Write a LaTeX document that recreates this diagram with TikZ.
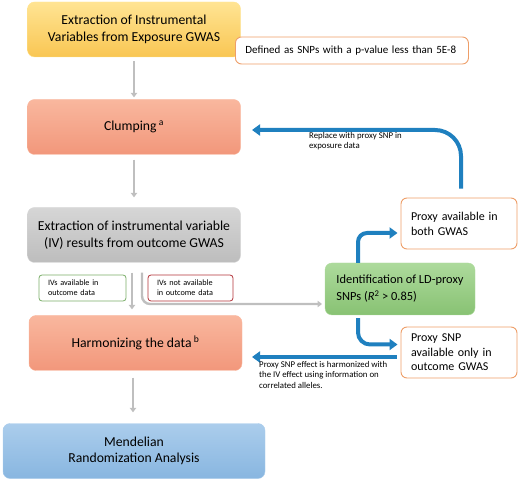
\documentclass[tikz,border=0pt]{standalone}
\usepackage{fontspec}
\setmainfont{Carlito}
\usetikzlibrary{positioning, arrows.meta}

\definecolor{yellowtop}{HTML}{FFE493}
\definecolor{yellowbot}{HTML}{F9C653}
\definecolor{salmontop}{HTML}{F9B79E}
\definecolor{salmonbot}{HTML}{F2977B}
\definecolor{greytop}{HTML}{D6D6D6}
\definecolor{greybot}{HTML}{BDBDBD}
\definecolor{greentop}{HTML}{ADDA9C}
\definecolor{greenbot}{HTML}{88C273}
\definecolor{bluetop}{HTML}{ABCDEC}
\definecolor{bluebot}{HTML}{88B6E0}
\definecolor{noteorange}{HTML}{EE9E68}
\definecolor{arrowgrey}{HTML}{BFBFBF}
\definecolor{arrowblue}{HTML}{1F80BF}
\definecolor{labelgreen}{HTML}{7AAE68}
\definecolor{labelred}{HTML}{B3333A}

\begin{document}
\begin{tikzpicture}[x=1pt, y=-1pt,
    stepbox/.style={draw, rounded corners=7pt, minimum width=213pt, minimum height=55pt,
        align=center, font=\fontsize{13.7}{16.5}\selectfont},
    notebox/.style={draw=noteorange, fill=white, rounded corners=6pt, line width=0.9pt,
        align=left, inner xsep=10pt},
    ivbox/.style={draw, fill=white, rounded corners=3pt, line width=0.8pt, align=left,
        minimum height=26pt, inner xsep=9pt, font=\fontsize{8.2}{10}\selectfont},
    greyarrow/.style={draw=arrowgrey, line width=2.4pt, -{Triangle[width=6.5pt,length=4.5pt]}},
    bluearrow/.style={draw=arrowblue, line width=4pt, -{Triangle[width=11pt,length=8pt]}},
    small/.style={font=\fontsize{8.8}{10.5}\selectfont, align=left, inner sep=0pt}]
    \useasboundingbox (0,0) rectangle (520,481);

    % main steps
    \node[stepbox, top color=yellowtop, bottom color=yellowbot, draw=yellowtop] (extract) at (134,29.5) {Extraction of Instrumental\\Variables from Exposure GWAS};
    \node[stepbox, top color=salmontop, bottom color=salmonbot, draw=salmontop] (clump) at (134,127) {Clumping\,\textsuperscript{a}};
    \node[stepbox, top color=greytop, bottom color=greybot, draw=greytop] (outcome) at (134,235) {Extraction of instrumental variable\\(IV) results from outcome GWAS};
    \node[stepbox, top color=salmontop, bottom color=salmonbot, draw=salmontop] (harm) at (135.5,343) {Harmonizing the data\,\textsuperscript{b}};
    \node[stepbox, top color=bluetop, bottom color=bluebot, draw=bluetop, minimum width=262pt] (mr) at (134,451) {Mendelian\\Randomization Analysis};

    % notes
    \node[notebox, anchor=west, text width=213pt, minimum height=27pt, font=\fontsize{11}{12}\selectfont] (pval) at (235,50.5) {Defined as SNPs with a p-value less than 5E-8};
    \node[notebox, text width=96pt, minimum height=51pt, font=\fontsize{12}{15}\selectfont] (both) at (459,223.5) {Proxy available in\\both GWAS};
    \node[notebox, text width=96pt, minimum height=51pt, font=\fontsize{12}{14.5}\selectfont] (only) at (459,352.5) {Proxy SNP\\available only in\\outcome GWAS};
    \node[draw=greentop, top color=greentop, bottom color=greenbot, rounded corners=7pt, minimum width=150pt,
        minimum height=52pt, align=left, font=\fontsize{12.4}{17}\selectfont] (ldproxy) at (400,289) {Identification of LD-proxy\\SNPs (\textit{R}\textsuperscript{2} > 0.85)};

    \node[ivbox, draw=labelgreen, text width=69pt] (avail) at (82.5,288) {IVs available in\\outcome data};
    \node[ivbox, draw=labelred, text width=67pt] (notavail) at (190.5,288) {IVs not available\\in outcome data};

    % grey flow
    \draw[greyarrow, shorten <=4pt, shorten >=2pt] (extract) -- (clump);
    \draw[greyarrow, shorten <=5pt, shorten >=10pt] (clump) -- (outcome);
    \draw[greyarrow, shorten <=10pt, shorten >=6pt] ([xshift=-2pt]outcome.south) -- ([xshift=-3.5pt]harm.north);
    \draw[greyarrow, shorten <=7pt, shorten >=11pt] ([xshift=-2.5pt]harm.south) -- ([xshift=-1pt]mr.north);
    \coordinate (ldtip) at (322,304);
    \draw[greyarrow, rounded corners=8pt, shorten <=10pt] ([xshift=8pt]outcome.south) |- (ldtip);

    % proxy loops
    \coordinate (clumptip) at (252,130);
    \coordinate (harmtip) at (252,357);
    \draw[bluearrow, rounded corners=26pt] ([xshift=2pt,yshift=9pt]both.north) |- (clumptip);
    \draw[bluearrow, rounded corners=9pt] ([xshift=-42pt]ldproxy.north) |- ([xshift=-3pt,yshift=-9.5pt]both.west);
    \draw[bluearrow, rounded corners=12pt] ([xshift=-42pt,yshift=-3pt]ldproxy.south) |- ([xshift=-3pt,yshift=8pt]only.west);
    \draw[bluearrow] ([xshift=-4pt,yshift=-4.5pt]only.west) -- (harmtip);

    \node[small, anchor=north west] (replace) at (309,132) {Replace with proxy SNP in\\exposure data};
    \node[small, anchor=north west] (harmnote) at (259,361) {Proxy SNP effect is harmonized with\\the IV effect using information on\\correlated alleles.};
\end{tikzpicture}
\end{document}
